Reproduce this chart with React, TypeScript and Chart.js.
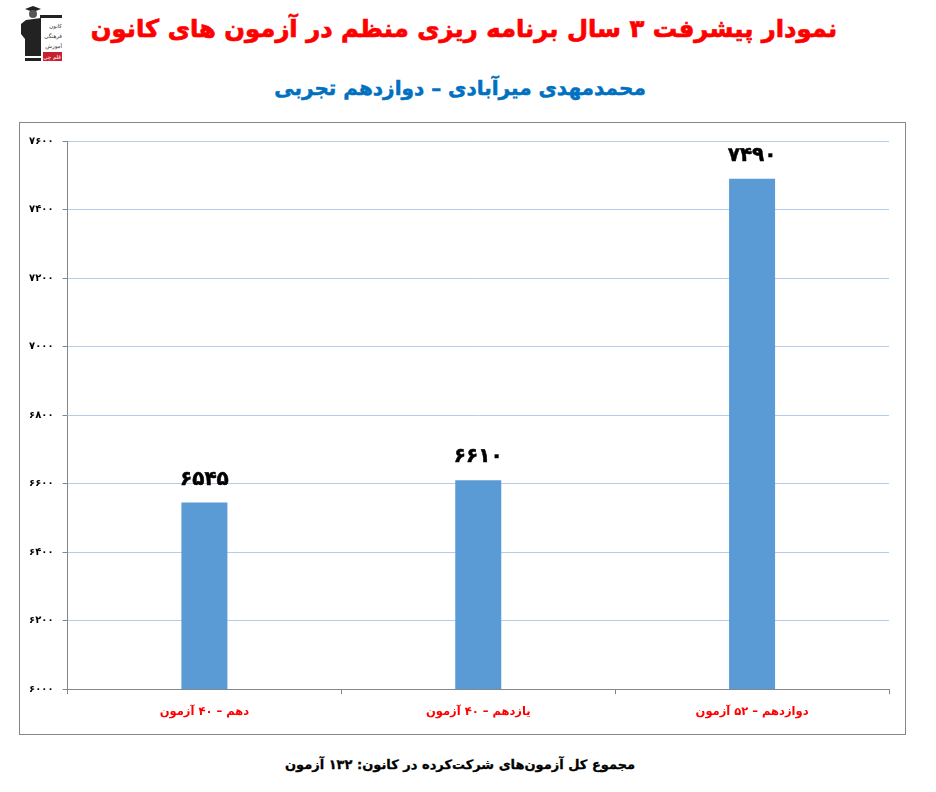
import React, { useEffect, useRef } from "react";
import { Chart, registerables } from "chart.js";

Chart.register(...registerables);

const categories = ["دهم – ۴۰ آزمون", "یازدهم – ۴۰ آزمون", "دوازدهم – ۵۲ آزمون"];
const scores = [6545, 6610, 7490];
const axisMin = 6000;
const axisMax = 7600;
const axisStep = 200;
const titleText = "نمودار پیشرفت ۳ سال برنامه ریزی منظم در آزمون های کانون";
const subtitleText = "محمدمهدی میرآبادی – دوازدهم تجربی";
const footerText = "مجموع کل آزمون‌های شرکت‌کرده در کانون:  ۱۳۲ آزمون";
const logoLines = ["کانون", "فرهنگی", "آموزش"];
const logoBadge = "قلم چی";

const FONT = '"DejaVu Sans", sans-serif';
const fa = (n: number) => String(n).replace(/\d/g, (d) => "۰۱۲۳۴۵۶۷۸۹"[+d]);

const valueLabels = {
  id: "valueLabels",
  afterDatasetsDraw(chart: any) {
    const { ctx } = chart;
    const meta = chart.getDatasetMeta(0);
    ctx.save();
    ctx.font = `bold 20px ${FONT}`;
    ctx.fillStyle = "#000";
    ctx.strokeStyle = "#000";
    ctx.lineWidth = 0.5;
    ctx.textAlign = "center";
    ctx.textBaseline = "middle";
    meta.data.forEach((bar: any, i: number) => {
      ctx.fillText(fa(scores[i]), bar.x, bar.y - 23);
      ctx.strokeText(fa(scores[i]), bar.x, bar.y - 23);
    });
    ctx.restore();
  },
};

const abs = (left: number, top: number, width: number, extra: React.CSSProperties = {}): React.CSSProperties => ({
  position: "absolute",
  left,
  top,
  width,
  textAlign: "center",
  fontFamily: FONT,
  fontWeight: 700,
  whiteSpace: "nowrap",
  direction: "rtl",
  ...extra,
});

function Logo() {
  return (
    <svg style={{ position: "absolute", left: 20, top: 6 }} width={42} height={56} viewBox="0 0 42 56">
      <rect x="20" y="9" width="22" height="3" fill="#222" />
      <path d="M5 3 L13 0 L21 3 L13 6 Z" fill="#222" />
      <circle cx="13" cy="8" r="4" fill="#555" />
      <path d="M1 18 L6 14 L21 12 L21 50 L5 50 L5 33 L1 28 Z" fill="#222" />
      <rect x="5" y="52" width="16" height="3" fill="#222" />
      {logoLines.map((t, i) => (
        <text key={t} x="42" y={22 + i * 10} textAnchor="start" fontSize="5.5" fontFamily={FONT} fill="#333" style={{ direction: "rtl" }}>{t}</text>
      ))}
      <rect x="23" y="46" width="19" height="9" fill="#c8202f" />
      <text x="41" y="53" textAnchor="start" fontSize="5.5" fontFamily={FONT} fill="#fff" style={{ direction: "rtl" }}>{logoBadge}</text>
    </svg>
  );
}

export default function App() {
  const ref = useRef<HTMLCanvasElement>(null);
  useEffect(() => {
    const chart = new Chart(ref.current!, {
      type: "bar",
      data: {
        labels: categories,
        datasets: [{ data: scores, backgroundColor: "#5b9bd5", categoryPercentage: 1, barPercentage: 0.168 }],
      },
      plugins: [valueLabels],
      options: {
        animation: false,
        responsive: false,
        devicePixelRatio: 1,
        layout: { padding: { left: 0, right: 16, top: 18, bottom: 4 } },
        plugins: { legend: { display: false }, tooltip: { enabled: false } },
        scales: {
          x: {
            offset: true,
            grid: { display: true, drawOnChartArea: false, offset: true, color: "#868686", tickLength: 5 },
            border: { color: "#868686", width: 1 },
            ticks: { color: "#ff0000", font: { family: FONT, weight: "bold", size: 11.5 }, padding: 11, maxRotation: 0 },
          },
          y: {
            min: axisMin,
            max: axisMax,
            afterFit(scale: any) { scale.width = 47.5; },
            grid: { color: "#b4cdea", tickColor: "#868686", tickLength: 5 },
            border: { color: "#868686", width: 1 },
            ticks: {
              stepSize: axisStep,
              color: "#000",
              font: { family: FONT, weight: "bold", size: 10 },
              padding: 9,
              callback: (v: any) => fa(Number(v)),
            },
          },
        },
      } as any,
    });
    return () => chart.destroy();
  }, []);

  return (
    <div style={{ position: "absolute", left: 0, top: 0, width: 936, height: 792, background: "#fff", overflow: "hidden" }}>
      <Logo />
      <div style={abs(14, 8, 900, { fontSize: 24.3, color: "#ff0000", lineHeight: "42px", WebkitTextStroke: "0.7px #ff0000" })}>{titleText}</div>
      <div style={abs(110, 70, 700, { fontSize: 20, color: "#0070c0", lineHeight: "36px", WebkitTextStroke: "0.5px #0070c0" })}>{subtitleText}</div>
      <div style={{ position: "absolute", left: 19, top: 122, width: 885, height: 611, border: "1px solid #868686" }}>
        <canvas ref={ref} width={885} height={611} style={{ display: "block" }} />
      </div>
      <div style={abs(160, 752, 600, { fontSize: 13, color: "#000", lineHeight: "26px", WebkitTextStroke: "0.3px #000" })}>{footerText}</div>
    </div>
  );
}
